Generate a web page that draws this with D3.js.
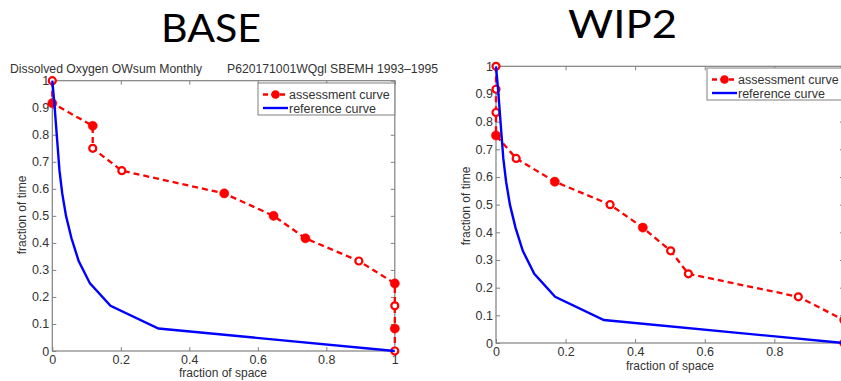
<!DOCTYPE html>
<html>
<head>
<meta charset="utf-8">
<script src="https://cdn.jsdelivr.net/npm/d3@7"></script>
<style>
  html, body { margin: 0; padding: 0; background: #fff; }
  svg { display: block; }
</style>
</head>
<body>
<svg id="chart" width="841" height="381"></svg>
<script>
// Fraction-of-time levels shared by both CFD curves (steps of 1/12)
const timeLevels = [1, 0.917, 0.833, 0.75, 0.667, 0.583, 0.5, 0.417, 0.333, 0.25, 0.167, 0.083, 0];

// Reference curve (fraction of space for each time level)
const refSpace = [0, 0.006, 0.011, 0.016, 0.021, 0.029, 0.04, 0.056, 0.077, 0.11, 0.17, 0.31, 1];

// BASE assessment curve
const baseSpace = [0, 0, 0.118, 0.118, 0.203, 0.502, 0.646, 0.739, 0.895, 1, 1, 1, 1];
const baseFilled = [false, true, true, false, false, true, true, true, false, true, false, true, false];

// WIP2 assessment curve
const wipSpace = [0, 0, 0, 0, 0.058, 0.169, 0.328, 0.422, 0.502, 0.553, 0.869, 1, 1];
const wipFilled = [false, false, false, true, false, true, false, true, false, false, false, false, false];

const xTicks = [0, 0.2, 0.4, 0.6, 0.8, 1];
const yTicks = [0, 0.1, 0.2, 0.3, 0.4, 0.5, 0.6, 0.7, 0.8, 0.9, 1];
const legendLabels = ["assessment curve", "reference curve"];

const svg = d3.select("#chart");
const RED = "#ff0000", BLUE = "#0000ff", AXIS = "#808080", TXT = "#333";
const tickFont = "Liberation Sans, Arial, sans-serif";

function fmt(d) { return d === 0 ? "0" : d === 1 ? "1" : String(d); }

function drawPanel(p) {
  const g = svg.append("g");
  const x = d3.scaleLinear().domain([0, 1]).range([p.x0, p.x1]);
  const y = d3.scaleLinear().domain([0, 1]).range([p.y0, p.y1]);

  // frame
  g.append("rect")
    .attr("x", p.x0).attr("y", p.y1)
    .attr("width", p.x1 - p.x0).attr("height", p.y0 - p.y1)
    .attr("fill", "none").attr("stroke", AXIS).attr("stroke-width", 1.2);

  const styleAxis = sel => {
    sel.select(".domain").remove();
    sel.selectAll(".tick line").attr("stroke", AXIS).attr("stroke-width", 1);
    sel.selectAll(".tick text").attr("fill", TXT)
      .style("font-family", tickFont).style("font-size", "12.5px");
  };

  g.append("g").attr("transform", `translate(0,${p.y0})`)
    .call(d3.axisBottom(x).tickValues(xTicks).tickFormat(fmt).tickSizeInner(-4).tickSizeOuter(0).tickPadding(p.xPad))
    .call(styleAxis);
  g.append("g").attr("transform", `translate(0,${p.y1})`)
    .call(d3.axisTop(x).tickValues(xTicks).tickFormat("").tickSizeInner(-4).tickSizeOuter(0))
    .call(styleAxis);
  g.append("g").attr("transform", `translate(${p.x0},0)`)
    .call(d3.axisLeft(y).tickValues(yTicks).tickFormat(fmt).tickSizeInner(-4).tickSizeOuter(0).tickPadding(3))
    .call(styleAxis);
  g.append("g").attr("transform", `translate(${p.x1},0)`)
    .call(d3.axisRight(y).tickValues(yTicks).tickFormat("").tickSizeInner(-4).tickSizeOuter(0))
    .call(styleAxis);

  // axis titles
  g.append("text").attr("x", p.xlabX).attr("y", p.y0 + p.xlabDy)
    .attr("text-anchor", "middle").attr("fill", TXT)
    .style("font-family", tickFont).style("font-size", "12px")
    .text("fraction of space");
  g.append("text")
    .attr("transform", `translate(${p.ylabX},${p.ylabY}) rotate(-90)`)
    .attr("text-anchor", "middle").attr("fill", TXT)
    .style("font-family", tickFont).style("font-size", "12px")
    .text("fraction of time");

  const line = d3.line().x(d => x(d[0])).y(d => y(d[1]));

  // assessment curve
  const assess = p.space.map((s, i) => [s, timeLevels[i], p.filled[i]]);
  g.append("path").datum(assess).attr("d", line)
    .attr("fill", "none").attr("stroke", RED).attr("stroke-width", 2.3)
    .attr("stroke-dasharray", "6,4");
  g.selectAll(".mk").data(assess).enter().append("circle")
    .attr("cx", d => x(d[0])).attr("cy", d => y(d[1]))
    .attr("r", d => d[2] ? 4.6 : 3.5)
    .attr("fill", d => d[2] ? RED : "#fff")
    .attr("stroke", RED).attr("stroke-width", d => d[2] ? 0.5 : 2.2);

  // reference curve
  const ref = refSpace.map((s, i) => [s, timeLevels[i]]);
  g.append("path").datum(ref).attr("d", line)
    .attr("fill", "none").attr("stroke", BLUE).attr("stroke-width", 2.4);

  // legend
  const L = p.legend;
  g.append("rect").attr("x", L.x).attr("y", L.y).attr("width", L.w).attr("height", 32)
    .attr("fill", "#fff").attr("stroke", AXIS).attr("stroke-width", 1);
  const rows = [L.y + 11.5, L.y + 25];
  g.append("line").attr("x1", L.x + 5).attr("x2", L.x + 30).attr("y1", rows[0]).attr("y2", rows[0])
    .attr("stroke", RED).attr("stroke-width", 2.3).attr("stroke-dasharray", "5,3.5");
  g.append("circle").attr("cx", L.x + 17.5).attr("cy", rows[0]).attr("r", 4.3).attr("fill", RED);
  g.append("line").attr("x1", L.x + 5).attr("x2", L.x + 30).attr("y1", rows[1]).attr("y2", rows[1])
    .attr("stroke", BLUE).attr("stroke-width", 2.4);
  legendLabels.forEach((t, i) => {
    g.append("text").attr("x", L.x + 31).attr("y", rows[i] + 4.5).attr("fill", TXT)
      .style("font-family", tickFont).style("font-size", "12.5px").text(t);
  });
}

drawPanel({
  x0: 52.3, x1: 394.8, y0: 351, y1: 80.7, xPad: 4,
  space: baseSpace, filled: baseFilled,
  ylabX: 26, ylabY: 215, xlabX: 223, xlabDy: 26,
  legend: { x: 258, y: 83, w: 136.8 }
});

drawPanel({
  x0: 496, x1: 843.9, y0: 343, y1: 66.3, xPad: 4,
  space: wipSpace, filled: wipFilled,
  ylabX: 470, ylabY: 206, xlabX: 670, xlabDy: 27,
  legend: { x: 707, y: 68, w: 136 }
});

// panel headings
const headFont = "Lato, 'Open Sans', sans-serif";
svg.append("text").attr("x", 161).attr("y", 42)
  .attr("textLength", 100).attr("lengthAdjust", "spacingAndGlyphs")
  .style("font-family", headFont).style("font-size", "39px").attr("fill", "#000").text("BASE");
svg.append("text").attr("x", 568).attr("y", 38)
  .attr("textLength", 109).attr("lengthAdjust", "spacingAndGlyphs")
  .style("font-family", headFont).style("font-size", "39px").attr("fill", "#000").text("WIP2");

// run description above the BASE plot
svg.append("text").attr("x", 10).attr("y", 72.5).attr("fill", TXT)
  .attr("textLength", 192).attr("lengthAdjust", "spacingAndGlyphs")
  .style("font-family", tickFont).style("font-size", "13px").text("Dissolved Oxygen OWsum Monthly");
svg.append("text").attr("x", 227).attr("y", 72.5).attr("fill", TXT)
  .attr("textLength", 211).attr("lengthAdjust", "spacingAndGlyphs")
  .style("font-family", tickFont).style("font-size", "13px").text("P620171001WQgl SBEMH 1993\u20131995");
</script>
</body>
</html>
